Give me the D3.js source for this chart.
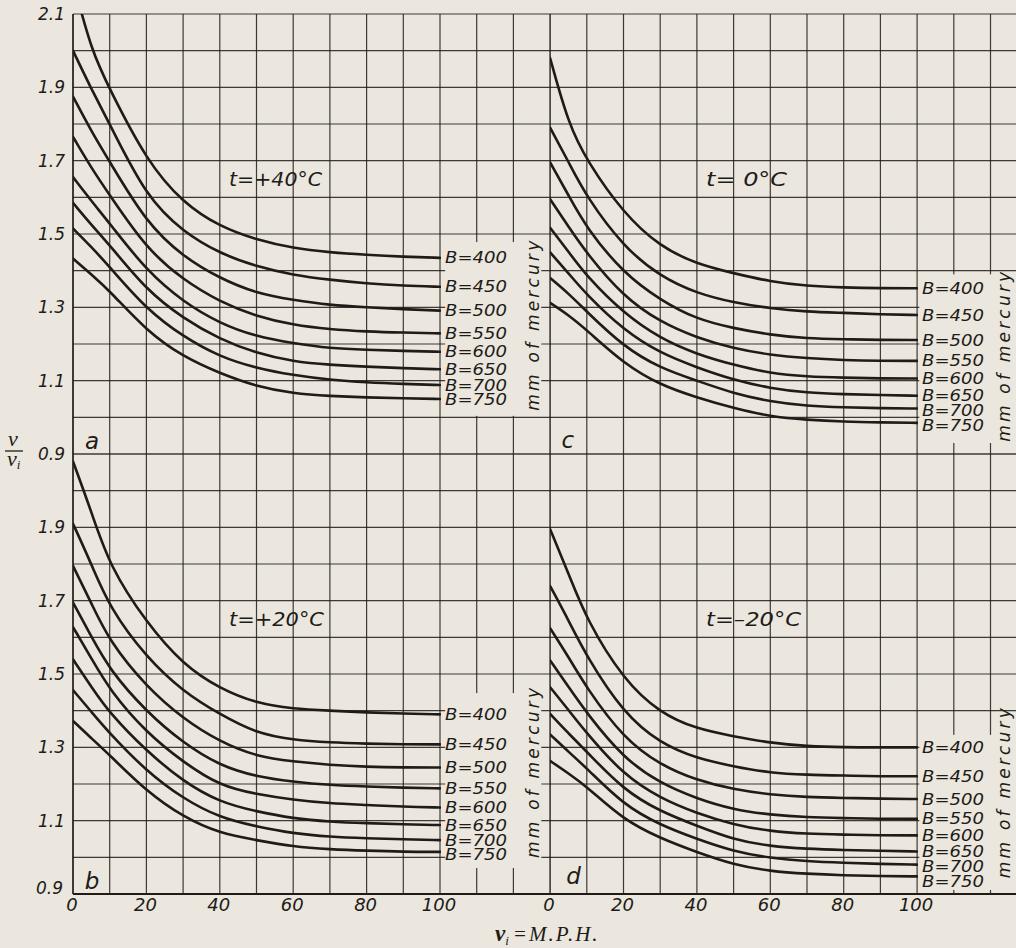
<!DOCTYPE html>
<html>
<head>
<meta charset="utf-8">
<script src="https://cdn.jsdelivr.net/npm/d3@7/dist/d3.min.js"></script>
<style>
  html, body { margin: 0; padding: 0; background: #ebe6de; }
  svg { display: block; }
</style>
</head>
<body>
<script>
const speeds = [0, 5, 10, 20, 30, 40, 50, 60, 70, 80, 90, 100];
const pressures = [400, 450, 500, 550, 600, 650, 700, 750];

// v / vi, one row per barometric pressure B (mm of mercury)
const ratioT40 = [
  [2.19, 2.00, 1.895, 1.70, 1.584, 1.52, 1.484, 1.461, 1.45, 1.443, 1.438, 1.435],
  [2.00, 1.895, 1.80, 1.60, 1.506, 1.447, 1.411, 1.388, 1.375, 1.365, 1.359, 1.356],
  [1.875, 1.78, 1.697, 1.53, 1.438, 1.379, 1.338, 1.32, 1.306, 1.30, 1.295, 1.291],
  [1.765, 1.68, 1.606, 1.46, 1.375, 1.315, 1.275, 1.252, 1.24, 1.234, 1.231, 1.229],
  [1.655, 1.59, 1.529, 1.40, 1.315, 1.256, 1.22, 1.202, 1.188, 1.184, 1.181, 1.179],
  [1.585, 1.525, 1.47, 1.347, 1.27, 1.213, 1.175, 1.152, 1.143, 1.138, 1.134, 1.131],
  [1.515, 1.465, 1.41, 1.295, 1.22, 1.165, 1.134, 1.115, 1.102, 1.095, 1.091, 1.088],
  [1.433, 1.39, 1.345, 1.236, 1.165, 1.12, 1.084, 1.065, 1.058, 1.054, 1.052, 1.05]
];
const ratioT0 = [
  [1.98, 1.80, 1.70, 1.556, 1.465, 1.418, 1.393, 1.37, 1.358, 1.354, 1.352, 1.352],
  [1.79, 1.697, 1.60, 1.465, 1.384, 1.338, 1.313, 1.297, 1.288, 1.285, 1.281, 1.279],
  [1.695, 1.606, 1.515, 1.393, 1.32, 1.267, 1.243, 1.225, 1.215, 1.213, 1.211, 1.211],
  [1.595, 1.52, 1.447, 1.329, 1.26, 1.217, 1.188, 1.17, 1.161, 1.156, 1.154, 1.154],
  [1.517, 1.452, 1.384, 1.284, 1.215, 1.172, 1.143, 1.12, 1.111, 1.108, 1.106, 1.106],
  [1.45, 1.393, 1.334, 1.238, 1.175, 1.136, 1.102, 1.079, 1.067, 1.063, 1.061, 1.059],
  [1.38, 1.338, 1.288, 1.193, 1.134, 1.10, 1.065, 1.043, 1.031, 1.027, 1.025, 1.024],
  [1.312, 1.279, 1.238, 1.147, 1.088, 1.054, 1.025, 1.002, 0.993, 0.988, 0.986, 0.985]
];
const ratioT20 = [
  [2.08, 1.943, 1.793, 1.64, 1.525, 1.46, 1.42, 1.405, 1.40, 1.395, 1.392, 1.39],
  [1.91, 1.80, 1.68, 1.545, 1.452, 1.39, 1.338, 1.32, 1.313, 1.31, 1.308, 1.308],
  [1.795, 1.693, 1.588, 1.465, 1.378, 1.315, 1.275, 1.261, 1.252, 1.247, 1.245, 1.245],
  [1.695, 1.602, 1.511, 1.397, 1.312, 1.25, 1.22, 1.206, 1.197, 1.193, 1.19, 1.188],
  [1.628, 1.543, 1.456, 1.34, 1.26, 1.195, 1.172, 1.157, 1.147, 1.143, 1.138, 1.136],
  [1.54, 1.465, 1.393, 1.29, 1.207, 1.15, 1.125, 1.106, 1.097, 1.093, 1.09, 1.088],
  [1.456, 1.397, 1.338, 1.235, 1.16, 1.108, 1.084, 1.065, 1.056, 1.052, 1.049, 1.047],
  [1.372, 1.325, 1.279, 1.18, 1.11, 1.065, 1.047, 1.029, 1.022, 1.018, 1.015, 1.015]
];
const ratioTm20 = [
  [1.895, 1.775, 1.647, 1.484, 1.393, 1.35, 1.33, 1.312, 1.303, 1.30, 1.30, 1.30],
  [1.74, 1.647, 1.547, 1.393, 1.311, 1.27, 1.248, 1.23, 1.225, 1.223, 1.221, 1.221],
  [1.625, 1.547, 1.461, 1.325, 1.252, 1.21, 1.185, 1.171, 1.164, 1.162, 1.16, 1.159],
  [1.537, 1.465, 1.393, 1.27, 1.202, 1.16, 1.13, 1.116, 1.109, 1.107, 1.105, 1.105],
  [1.464, 1.402, 1.338, 1.225, 1.161, 1.12, 1.089, 1.071, 1.064, 1.062, 1.06, 1.06],
  [1.391, 1.338, 1.288, 1.184, 1.125, 1.086, 1.048, 1.03, 1.023, 1.02, 1.018, 1.016],
  [1.335, 1.288, 1.243, 1.143, 1.088, 1.05, 1.016, 0.998, 0.989, 0.985, 0.982, 0.98],
  [1.263, 1.229, 1.193, 1.102, 1.052, 1.014, 0.98, 0.962, 0.955, 0.951, 0.949, 0.948]
];

const yTickLabels = ["2.1", "1.9", "1.7", "1.5", "1.3", "1.1", "0.9"];
const xTickLabels = ["0", "20", "40", "60", "80", "100"];

const W = 1016, H = 948;
const paper = "#ebe6de", ink = "#201b17";
const font = "'DejaVu Sans', sans-serif";

const svg = d3.select("body").append("svg")
    .attr("width", W)
    .attr("height", H)
    .style("background", paper);

// left panels use x, right panels share the same grid 130 units further on
const x = d3.scaleLinear([0, 100], [73, 440]);
const xR = d3.scaleLinear([0, 100], [x(130), x(230)]);
const yTop = d3.scaleLinear([0.9, 2.1], [454, 14]);
const yBot = d3.scaleLinear([0.9, 2.1], [894, 454]);

const panels = [
  {letter: "a", temp: "t=+40°C", tempW: 93, data: ratioT40, xs: x, ys: yTop, mask: [101.4, 127.6, 1.478, 1.004], letterAt: [5.2, 0.935], mm: 1.25},
  {letter: "c", temp: "t= 0°C", tempW: 81, data: ratioT0, xs: xR, ys: yTop, mask: [100.6, 140, 1.39, 0.93], letterAt: [4.8, 0.94], mm: 1.165},
  {letter: "b", temp: "t=+20°C", tempW: 95, data: ratioT20, xs: x, ys: yBot, mask: [101.4, 127.6, 1.448, 0.971], letterAt: [5.2, 0.935], mm: 1.23},
  {letter: "d", temp: "t=–20°C", tempW: 95, data: ratioTm20, xs: xR, ys: yBot, mask: [100.6, 140, 1.334, 0.911], letterAt: [6.4, 0.95], mm: 1.175}
];

// grid
const grid = svg.append("g").attr("stroke", ink).attr("stroke-opacity", 0.85);
const cols = d3.range(0, 260, 10).filter(v => x(v) <= W);
grid.selectAll("line.v").data(cols).join("line")
    .attr("x1", d => x(d)).attr("x2", d => x(d))
    .attr("y1", yTop(2.1)).attr("y2", yBot(0.9))
    .attr("stroke-width", d => (d === 0 ? 2 : d === 130 ? 1.6 : 1.2));
const rows = d3.range(0, 13).map(i => yTop(0.9 + i * 0.1))
    .concat(d3.range(0, 12).map(i => yBot(0.9 + i * 0.1)));
grid.selectAll("line.h").data(rows).join("line")
    .attr("x1", x(0)).attr("x2", W)
    .attr("y1", d => d).attr("y2", d => d)
    .attr("stroke-width", d => (d === yTop(0.9) ? 1.5 : 1.2));
svg.append("line").attr("x1", x(0)).attr("x2", W)
    .attr("y1", yBot(0.9)).attr("y2", yBot(0.9))
    .attr("stroke", ink).attr("stroke-width", 2);

// paper behind the labels cuts the grid
svg.append("g").selectAll("rect").data(panels).join("rect")
    .attr("fill", paper)
    .attr("x", p => p.xs(p.mask[0]))
    .attr("width", p => Math.min(p.xs(p.mask[1]), W) - p.xs(p.mask[0]))
    .attr("y", p => p.ys(p.mask[2]))
    .attr("height", p => p.ys(p.mask[3]) - p.ys(p.mask[2]));

const defs = svg.append("defs");

panels.forEach((p, pi) => {
  const g = svg.append("g");
  defs.append("clipPath").attr("id", "clip" + pi)
    .append("rect")
      .attr("x", p.xs(0)).attr("y", p.ys(2.1))
      .attr("width", p.xs(100) - p.xs(0) + 1)
      .attr("height", p.ys(0.9) - p.ys(2.1));

  const line = d3.line()
      .x((d, i) => p.xs(speeds[i]))
      .y(d => p.ys(d))
      .curve(d3.curveBasis);

  g.append("g")
      .attr("clip-path", `url(#clip${pi})`)
    .selectAll("path").data(p.data).join("path")
      .attr("d", line)
      .attr("fill", "none")
      .attr("stroke", ink)
      .attr("stroke-width", 2.6)
      .attr("stroke-linecap", "round");

  // B labels at the curve ends, pushed apart where they crowd
  const ly = [];
  p.data.forEach((d, i) => {
    const y0 = p.ys(d[d.length - 1]);
    ly.push(i === 0 ? y0 : Math.max(y0, ly[i - 1] + 14.8));
  });
  g.append("g").selectAll("text").data(p.data).join("text")
      .attr("x", p.xs(100) + 5)
      .attr("y", (d, i) => ly[i])
      .attr("dy", "0.36em")
      .attr("font-family", font)
      .attr("font-style", "oblique")
      .attr("font-size", 15.5)
      .attr("fill", ink)
      .attr("textLength", 62)
      .attr("lengthAdjust", "spacingAndGlyphs")
      .text((d, i) => "B=" + pressures[i]);

  g.append("text")
      .attr("x", p.xs(42.5))
      .attr("y", p.ys(1.65))
      .attr("dy", "0.36em")
      .attr("font-family", font)
      .attr("font-style", "oblique")
      .attr("font-size", 19)
      .attr("fill", ink)
      .attr("textLength", p.tempW)
      .attr("lengthAdjust", "spacingAndGlyphs")
      .text(p.temp);

  g.append("text")
      .attr("x", p.xs(p.letterAt[0]))
      .attr("y", p.ys(p.letterAt[1]))
      .attr("dy", "0.36em")
      .attr("text-anchor", "middle")
      .attr("font-family", font)
      .attr("font-style", "oblique")
      .attr("font-size", 23)
      .attr("fill", ink)
      .text(p.letter);

  // "mm of mercury" beside the B labels
  const mmX = p.xs === x ? p.xs(125.2) : p.xs(123.6);
  g.append("text")
      .attr("transform", `translate(${mmX},${p.ys(p.mm)}) rotate(-90)`)
      .attr("dy", "0.36em")
      .attr("text-anchor", "middle")
      .attr("font-family", font)
      .attr("font-style", "oblique")
      .attr("font-size", 17)
      .attr("fill", ink)
      .attr("textLength", 170)
      .attr("lengthAdjust", "spacing")
      .text("mm of mercury");
});

// y tick labels
const yt = svg.append("g")
    .attr("font-family", font)
    .attr("font-style", "oblique")
    .attr("font-size", 17)
    .attr("fill", ink)
    .attr("text-anchor", "end");
yt.selectAll("text.t").data(yTickLabels).join("text")
    .attr("x", 65)
    .attr("y", d => yTop(+d))
    .attr("dy", "0.36em")
    .text(d => d);
yt.selectAll("text.b").data(yTickLabels.slice(1)).join("text")
    .attr("x", d => (d === "0.9" ? 63 : 65))
    .attr("y", d => yBot(+d) - (d === "0.9" ? 6 : 0))
    .attr("dy", "0.36em")
    .text(d => d);

// x tick labels
const xt = svg.append("g")
    .attr("font-family", font)
    .attr("font-style", "oblique")
    .attr("font-size", 18)
    .attr("fill", ink)
    .attr("text-anchor", "middle");
[x, xR].forEach(s => {
  xt.append("g").selectAll("text").data(xTickLabels).join("text")
      .attr("x", d => s(+d) - 1)
      .attr("y", yBot(0.9) + 17)
      .text(d => d);
});

// axis titles
const serif = "'Liberation Serif', 'DejaVu Serif', serif";
const yl = svg.append("g")
    .attr("font-family", serif)
    .attr("font-style", "italic")
    .attr("font-size", 22)
    .attr("fill", ink);
yl.append("text").attr("x", 13).attr("y", yTop(0.9) - 8).attr("text-anchor", "middle").text("v");
yl.append("line").attr("x1", 5).attr("x2", 23)
    .attr("y1", yTop(0.9) - 3).attr("y2", yTop(0.9) - 3)
    .attr("stroke", ink).attr("stroke-width", 1.3);
const vi = yl.append("text").attr("x", 7).attr("y", yTop(0.9) + 12);
vi.append("tspan").text("v");
vi.append("tspan").attr("font-size", 13).attr("dy", 3).text("i");

const xl = svg.append("text")
    .attr("x", 495)
    .attr("y", 941)
    .attr("font-family", serif)
    .attr("font-style", "italic")
    .attr("font-size", 21)
    .attr("fill", ink);
xl.append("tspan").attr("font-weight", "bold").attr("font-size", 23).text("v");
xl.append("tspan").attr("font-size", 13).attr("dy", 4).text("i");
xl.append("tspan").attr("dy", -4).attr("dx", 4).attr("letter-spacing", 2).text("=M.P.H.");
</script>
</body>
</html>
